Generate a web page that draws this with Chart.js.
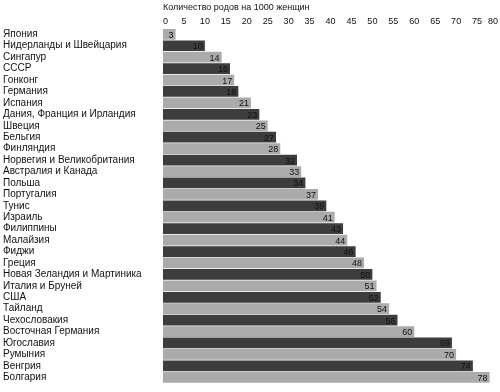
<!DOCTYPE html>
<html lang="ru">
<head>
    <meta charset="UTF-8">
    <title>Количество родов на 1000 женщин</title>
    <script src="https://cdn.jsdelivr.net/npm/chart.js"></script>
    <style>
        html, body { margin: 0; padding: 0; background: #fff; }
        #wrap { width: 500px; height: 392px; }
    </style>
</head>
<body>
    <div id="wrap"><canvas id="birthChart"></canvas></div>

    <script>
        const countries = [
            'Япония', 'Нидерланды и Швейцария', 'Сингапур', 'СССР', 'Гонконг',
            'Германия', 'Испания', 'Дания, Франция и Ирландия', 'Швеция', 'Бельгия',
            'Финляндия', 'Норвегия и Великобритания', 'Австралия и Канада', 'Польша',
            'Португалия', 'Тунис', 'Израиль', 'Филиппины', 'Малайзия', 'Фиджи',
            'Греция', 'Новая Зеландия и Мартиника', 'Италия и Бруней', 'США',
            'Тайланд', 'Чехословакия', 'Восточная Германия', 'Югославия', 'Румыния',
            'Венгрия', 'Болгария'
        ];
        const births = [3, 10, 14, 16, 17, 18, 21, 23, 25, 27, 28, 32, 33, 34, 37,
            39, 41, 43, 44, 46, 48, 50, 51, 52, 54, 56, 60, 69, 70, 74, 78];
        const axisTitle = 'Количество родов на 1000 женщин';

        const light = '#ababab';
        const dark = '#3d3d3d';
        const font = '"Liberation Sans", Arial, sans-serif';

        // number at the end of each bar
        const valueLabels = {
            id: 'valueLabels',
            afterDatasetsDraw(chart) {
                const ctx = chart.ctx;
                const meta = chart.getDatasetMeta(0);
                ctx.save();
                ctx.font = '9px ' + font;
                ctx.fillStyle = '#111';
                ctx.textAlign = 'right';
                ctx.textBaseline = 'middle';
                meta.data.forEach((bar, i) => {
                    ctx.fillText(births[i], bar.x - 2, bar.y + 1);
                });
                ctx.restore();
            }
        };

        new Chart(document.getElementById('birthChart'), {
            type: 'bar',
            data: {
                labels: countries,
                datasets: [{
                    data: births,
                    backgroundColor: births.map((v, i) => i % 2 ? dark : light),
                    barPercentage: 1,
                    categoryPercentage: 0.94
                }]
            },
            options: {
                indexAxis: 'y',
                responsive: true,
                maintainAspectRatio: false,
                animation: false,
                layout: { padding: { left: 3, right: 2, top: 2, bottom: 8 } },
                plugins: {
                    legend: { display: false },
                    tooltip: { enabled: false }
                },
                scales: {
                    x: {
                        position: 'top',
                        min: 0,
                        max: 80,
                        ticks: {
                            stepSize: 5,
                            padding: 2,
                            align: 'inner',
                            color: '#111',
                            font: { family: font, size: 9 }
                        },
                        grid: { display: false, drawTicks: false },
                        border: { display: false },
                        title: {
                            display: true,
                            text: axisTitle,
                            align: 'start',
                            color: '#111',
                            padding: { top: 0, bottom: 1 },
                            font: { family: font, size: 9 }
                        }
                    },
                    y: {
                        ticks: {
                            crossAlign: 'far',
                            autoSkip: false,
                            color: '#111',
                            font: { family: font, size: 10 }
                        },
                        grid: { display: false, drawTicks: false },
                        border: { display: false },
                        afterFit(scale) { scale.width = 160; }
                    }
                }
            },
            plugins: [valueLabels]
        });
    </script>
</body>
</html>
